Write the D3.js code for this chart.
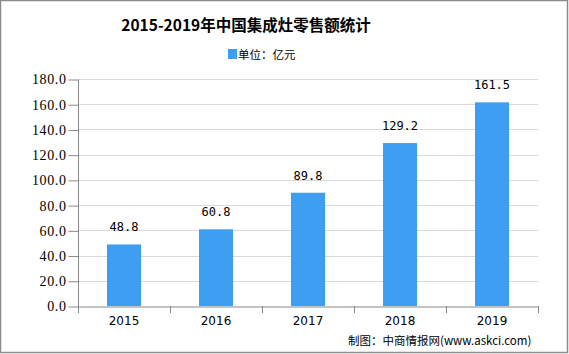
<!DOCTYPE html>
<html>
<head>
<meta charset="utf-8">
<script src="https://cdn.jsdelivr.net/npm/d3@7"></script>
<style>
  body { margin: 0; background: #fff; }
  svg { display: block; }
</style>
</head>
<body>
<div id="chart"></div>
<script>
// data
var years = ["2015", "2016", "2017", "2018", "2019"];
var sales = [48.8, 60.8, 89.8, 129.2, 161.5];
var yTicks = [0, 20, 40, 60, 80, 100, 120, 140, 160, 180];

var W = 569, H = 354;
var margin = { top: 79, right: 31, bottom: 48, left: 78 };
var barColor = "#3d9ef2";

var svg = d3.select("#chart").append("svg")
    .attr("width", W)
    .attr("height", H);

// outer frame
svg.append("rect")
    .attr("x", 0.5).attr("y", 0.5)
    .attr("width", W - 2).attr("height", H - 2)
    .attr("fill", "#fff")
    .attr("stroke", "#8c8c8c")
    .attr("stroke-width", 1.5);

var x = d3.scaleBand().domain(years).range([margin.left, W - margin.right]).paddingInner(0.63).paddingOuter(0.315);
var band = d3.scaleBand().domain(years).range([margin.left, W - margin.right]);
var y = d3.scaleLinear().domain([0, 180]).range([H - margin.bottom, margin.top]);

// gridlines
svg.append("g")
    .selectAll("line")
    .data(yTicks.slice(1))
    .enter().append("line")
    .attr("x1", margin.left).attr("x2", W - margin.right)
    .attr("y1", d => Math.round(y(d)) + 0.5).attr("y2", d => Math.round(y(d)) + 0.5)
    .attr("stroke", "#d9d9d9");

// y axis
var yAxis = svg.append("g")
    .attr("transform", "translate(" + (margin.left + 0.5) + ",0.5)")
    .call(d3.axisLeft(y).tickValues(yTicks).tickSize(10).tickPadding(2).tickFormat(d3.format(".1f")));
yAxis.select(".domain").attr("stroke", "#888").attr("d", "M0," + y(180) + "V" + y(0));
yAxis.selectAll(".tick line").attr("stroke", "#888");
yAxis.selectAll("text")
    .style("font-family", "'Liberation Serif', 'DejaVu Serif', serif")
    .style("font-size", "14px")
    .style("letter-spacing", "0.6px")
    .attr("fill", "#000");

// x axis
var xAxis = svg.append("g")
    .attr("transform", "translate(0," + (Math.round(y(0)) + 0.5) + ")")
    .call(d3.axisBottom(band).tickSize(0).tickPadding(10));
xAxis.select(".domain").attr("stroke", "#888");
xAxis.selectAll("text")
    .style("font-family", "'DejaVu Sans', sans-serif")
    .style("font-size", "12px")
    .attr("fill", "#000");
// category separators
svg.append("g")
    .selectAll("line")
    .data(years.concat(["end"]))
    .enter().append("line")
    .attr("x1", (d, i) => Math.round(margin.left + band.step() * i) + 0.5)
    .attr("x2", (d, i) => Math.round(margin.left + band.step() * i) + 0.5)
    .attr("y1", y(0)).attr("y2", y(0) + 7)
    .attr("stroke", "#888");

// bars
svg.append("g")
    .selectAll("rect")
    .data(sales)
    .enter().append("rect")
    .attr("x", (d, i) => x(years[i]))
    .attr("width", x.bandwidth())
    .attr("y", d => y(d))
    .attr("height", d => y(0) - y(d))
    .attr("fill", barColor);

// value labels
svg.append("g")
    .selectAll("text")
    .data(sales)
    .enter().append("text")
    .attr("x", (d, i) => x(years[i]) + x.bandwidth() / 2)
    .attr("y", d => y(d) - 13)
    .attr("text-anchor", "middle")
    .style("font-family", "'DejaVu Sans Mono', monospace")
    .style("font-size", "12px")
    .text(d => d.toFixed(1));

// title
svg.append("text")
    .attr("x", 246).attr("y", 31)
    .attr("text-anchor", "middle")
    .style("font-family", "'Noto Sans CJK SC', sans-serif")
    .style("font-weight", "bold")
    .style("font-size", "15.5px")
    .text("2015-2019年中国集成灶零售额统计");

// legend
svg.append("rect")
    .attr("x", 228).attr("y", 49)
    .attr("width", 9).attr("height", 10)
    .attr("fill", barColor);
svg.append("text")
    .attr("x", 238).attr("y", 59)
    .style("font-family", "'Noto Sans CJK SC', sans-serif")
    .style("font-size", "11.5px")
    .text("单位：亿元");

// source
svg.append("text")
    .attr("x", 348).attr("y", 345)
    .style("font-family", "'Noto Sans CJK SC', sans-serif")
    .style("font-size", "11.5px")
    .text("制图：中商情报网(www.askci.com)");
</script>
</body>
</html>
